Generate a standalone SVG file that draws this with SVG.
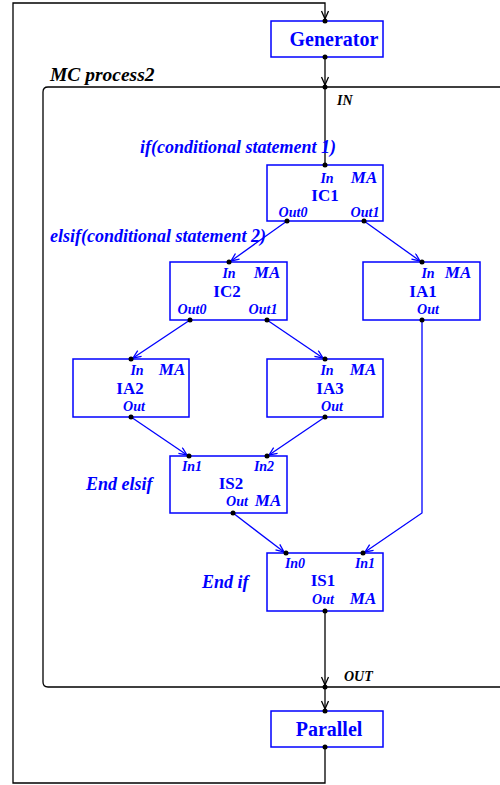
<svg xmlns="http://www.w3.org/2000/svg" width="500" height="785" viewBox="0 0 500 785">
  <style>
    .box { fill: #fff; stroke: #0000ff; stroke-width: 1.5; }
    .blk { fill: none; stroke: #000; stroke-width: 1.3; }
    .blu { fill: none; stroke: #0000ff; stroke-width: 1.3; }
    .dot { fill: #000; }
    .name { font-family: "Liberation Serif", serif; font-weight: bold; fill: #0000ff; font-size: 17px; text-anchor: middle; }
    .big { font-size: 20px; }
    .port { font-family: "Liberation Serif", serif; font-weight: bold; font-style: italic; fill: #0000ff; font-size: 14px; text-anchor: middle; }
    .ma { font-family: "Liberation Serif", serif; font-weight: bold; font-style: italic; fill: #0000ff; font-size: 17px; text-anchor: middle; }
    .cond { font-family: "Liberation Serif", serif; font-weight: bold; font-style: italic; fill: #0000ff; font-size: 18px; }
    .tag { font-family: "Liberation Serif", serif; font-weight: bold; font-style: italic; fill: #000; font-size: 14px; }
    .title { font-family: "Liberation Serif", serif; font-weight: bold; font-style: italic; fill: #000; font-size: 19.5px; }
  </style>
  <defs>
    <marker id="ak" markerUnits="userSpaceOnUse" markerWidth="12" markerHeight="10" refX="9" refY="4" orient="auto">
      <path d="M1,0.5 L9,4 L1,7.5" fill="none" stroke="#000" stroke-width="1.3"/>
    </marker>
    <marker id="ab" markerUnits="userSpaceOnUse" markerWidth="12" markerHeight="10" refX="9" refY="4" orient="auto">
      <path d="M1,0.5 L9,4 L1,7.5" fill="none" stroke="#0000ff" stroke-width="1.3"/>
    </marker>
  </defs>

  <!-- composite process frame -->
  <g id="mc-process2">
    <path class="blk" d="M502,87 H48 Q43,87 43,92 V682 Q43,687 48,687 H502"/>
    <text class="title" x="50" y="81">MC process2</text>
    <text class="tag" x="337" y="105">IN</text>
    <text class="tag" x="344" y="681">OUT</text>
  </g>

  <!-- connectors -->
  <g id="connectors">
    <!-- loop back from Parallel to Generator -->
    <path class="blk" d="M325,747 V783 H13 V3 H325 V19" marker-end="url(#ak)"/>
    <path class="blk" d="M325,57 V85" marker-end="url(#ak)"/>
    <path class="blk" d="M325,87 V165"/>
    <path class="blk" d="M325,611 V685" marker-end="url(#ak)"/>
    <path class="blk" d="M325,687 V709" marker-end="url(#ak)"/>

    <path class="blu" d="M287,221 L231,261" marker-end="url(#ab)"/>
    <path class="blu" d="M364,221 L420,261" marker-end="url(#ab)"/>
    <path class="blu" d="M190,320 L133,358" marker-end="url(#ab)"/>
    <path class="blu" d="M267,320 L323,358" marker-end="url(#ab)"/>
    <path class="blu" d="M131,417 L187,455" marker-end="url(#ab)"/>
    <path class="blu" d="M325,417 L269,455" marker-end="url(#ab)"/>
    <path class="blu" d="M233,513 L284,552" marker-end="url(#ab)"/>
    <path class="blu" d="M422,320 V513 L365,552" marker-end="url(#ab)"/>
  </g>

  <!-- branch annotations -->
  <g id="annotations">
    <text class="cond" x="140" y="153">if(conditional statement 1)</text>
    <text class="cond" x="50" y="242">elsif(conditional statement 2)</text>
    <text class="cond" x="86" y="490">End elsif</text>
    <text class="cond" x="202" y="588">End if</text>
  </g>

  <g id="generator">
    <rect class="box" x="271" y="21" width="112" height="36"/>
    <text class="name big" x="334" y="46">Generator</text>
    <circle class="dot" cx="325" cy="21" r="2.5"/>
    <circle class="dot" cx="325" cy="57" r="2.5"/>
  </g>

  <g id="process-ports">
    <circle class="dot" cx="325" cy="87" r="2.5"/>
    <circle class="dot" cx="325" cy="687" r="2.5"/>
  </g>

  <g id="IC1">
    <rect class="box" x="267" y="165" width="116" height="56"/>
    <text class="port" x="327" y="183">In</text>
    <text class="ma" x="364" y="183">MA</text>
    <text class="name" x="325" y="201">IC1</text>
    <text class="port" x="293" y="217">Out0</text>
    <text class="port" x="365" y="217">Out1</text>
    <circle class="dot" cx="325" cy="165" r="2.5"/>
    <circle class="dot" cx="287" cy="221" r="2.5"/>
    <circle class="dot" cx="364" cy="221" r="2.5"/>
  </g>

  <g id="IC2">
    <rect class="box" x="170" y="262" width="117" height="58"/>
    <text class="port" x="229" y="278">In</text>
    <text class="ma" x="267" y="278">MA</text>
    <text class="name" x="227" y="297">IC2</text>
    <text class="port" x="192" y="314">Out0</text>
    <text class="port" x="263" y="314">Out1</text>
    <circle class="dot" cx="229" cy="262" r="2.5"/>
    <circle class="dot" cx="190" cy="320" r="2.5"/>
    <circle class="dot" cx="267" cy="320" r="2.5"/>
  </g>

  <g id="IA1">
    <rect class="box" x="363" y="262" width="117" height="58"/>
    <text class="port" x="428" y="278">In</text>
    <text class="ma" x="458" y="278">MA</text>
    <text class="name" x="423" y="297">IA1</text>
    <text class="port" x="428" y="314">Out</text>
    <circle class="dot" cx="422" cy="262" r="2.5"/>
    <circle class="dot" cx="422" cy="320" r="2.5"/>
  </g>

  <g id="IA2">
    <rect class="box" x="73" y="359" width="116" height="58"/>
    <text class="port" x="137" y="375">In</text>
    <text class="ma" x="172" y="375">MA</text>
    <text class="name" x="130" y="394">IA2</text>
    <text class="port" x="134" y="411">Out</text>
    <circle class="dot" cx="131" cy="359" r="2.5"/>
    <circle class="dot" cx="131" cy="417" r="2.5"/>
  </g>

  <g id="IA3">
    <rect class="box" x="267" y="359" width="116" height="58"/>
    <text class="port" x="327" y="375">In</text>
    <text class="ma" x="363" y="375">MA</text>
    <text class="name" x="330" y="394">IA3</text>
    <text class="port" x="332" y="411">Out</text>
    <circle class="dot" cx="325" cy="359" r="2.5"/>
    <circle class="dot" cx="325" cy="417" r="2.5"/>
  </g>

  <g id="IS2">
    <rect class="box" x="170" y="456" width="117" height="57"/>
    <text class="port" x="192" y="471">In1</text>
    <text class="port" x="264" y="471">In2</text>
    <text class="name" x="231" y="489">IS2</text>
    <text class="port" x="237" y="506">Out</text>
    <text class="ma" x="268" y="506">MA</text>
    <circle class="dot" cx="189" cy="456" r="2.5"/>
    <circle class="dot" cx="267" cy="456" r="2.5"/>
    <circle class="dot" cx="233" cy="513" r="2.5"/>
  </g>

  <g id="IS1">
    <rect class="box" x="267" y="553" width="116" height="58"/>
    <text class="port" x="295" y="568">In0</text>
    <text class="port" x="365" y="568">In1</text>
    <text class="name" x="323" y="586">IS1</text>
    <text class="port" x="323" y="604">Out</text>
    <text class="ma" x="363" y="604">MA</text>
    <circle class="dot" cx="286" cy="553" r="2.5"/>
    <circle class="dot" cx="363" cy="553" r="2.5"/>
    <circle class="dot" cx="325" cy="611" r="2.5"/>
  </g>

  <g id="parallel">
    <rect class="box" x="271" y="711" width="112" height="36"/>
    <text class="name big" x="329" y="736">Parallel</text>
    <circle class="dot" cx="325" cy="711" r="2.5"/>
    <circle class="dot" cx="325" cy="747" r="2.5"/>
  </g>
</svg>
